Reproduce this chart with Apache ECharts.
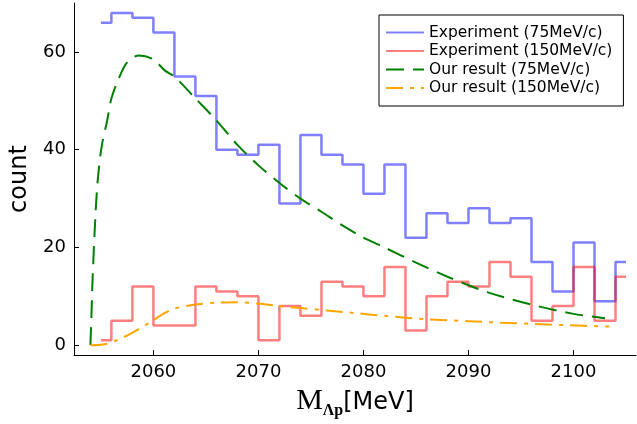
<!DOCTYPE html>
<html>
<head>
<meta charset="utf-8">
<script src="https://cdn.jsdelivr.net/npm/echarts@6/dist/echarts.min.js"></script>
<style>
  html, body { margin: 0; padding: 0; background: #fff; }
  #chart { width: 637px; height: 424px; }
</style>
</head>
<body>
<div id="chart"></div>
<script>
// bin centres (2 MeV bins, drawn as mid steps)
const binCenters = [2055, 2057, 2059, 2061, 2063, 2065, 2067, 2069, 2071, 2073, 2075, 2077, 2079,
                    2081, 2083, 2085, 2087, 2089, 2091, 2093, 2095, 2097, 2099, 2101, 2103, 2105];
const exp75 = [66, 68, 67, 64, 55, 51, 40, 39, 41, 29, 43, 39, 37,
               31, 37, 22, 27, 25, 28, 25, 26, 17, 11, 21, 9, 17];
const exp150 = [1, 5, 12, 4, 4, 12, 11, 10, 1, 8, 6, 13, 12,
                10, 16, 3, 10, 13, 12, 17, 14, 5, 8, 16, 5, 14];

// theory curves
const res75X = [2054.0, 2054.1, 2054.2, 2054.4, 2054.6, 2054.8, 2055.1, 2055.6, 2056.0, 2056.7,
                2057.5, 2058.6, 2060, 2061.1, 2062, 2064, 2066, 2068, 2070, 2072, 2074, 2076,
                2078, 2080, 2082, 2085, 2088, 2092, 2096, 2100, 2103];
const res75Y = [0, 6, 13, 23, 31, 36, 41, 46, 50.5, 54.6,
                57.9, 59.3, 58.5, 56.2, 55, 50.5, 46, 41, 36.8, 33.2, 30, 27.3,
                24.5, 22, 20, 16.9, 14, 10.7, 8.3, 6.4, 5.5];
const res150X = [2054.0, 2055.0, 2055.6, 2056.5, 2057.8, 2059.4, 2061.1, 2062, 2064, 2066, 2068,
                 2070, 2072, 2074, 2076.5, 2079, 2082, 2086, 2090, 2093, 2096, 2099, 2103.4];
const res150Y = [0, 0.1, 0.3, 1, 2.3, 4.3, 6.6, 7.5, 8.3, 8.7, 8.8,
                 8.5, 8.0, 7.6, 7.1, 6.6, 6.0, 5.3, 4.9, 4.6, 4.35, 4.1, 3.8];

const xTicks = [2060, 2070, 2080, 2090, 2100];
const yTicks = [0, 20, 40, 60];

const pairs = (xs, ys) => xs.map((x, i) => [x, ys[i]]);

const chart = echarts.init(document.getElementById("chart"), null, { renderer: "canvas" });

const font = "DejaVu Sans";

const option = {
    animation: false,
    backgroundColor: "#fff",
    grid: { left: 72, top: 3, right: 1, bottom: 58.5 },
    legend: {
        orient: "vertical",
        left: 379,
        top: 15,
        padding: [9.5, 11, 10, 6],
        itemWidth: 38,
        itemHeight: 14,
        itemGap: 2.5,
        borderColor: "#000",
        borderWidth: 1,
        borderRadius: 0,
        backgroundColor: "#fff",
        itemStyle: { opacity: 0 },
        textStyle: { fontFamily: font, fontSize: 15.5, color: "#000" },
        data: ["Experiment (75MeV/c)", "Experiment (150MeV/c)", "Our result (75MeV/c)", "Our result (150MeV/c)"]
    },
    xAxis: {
        type: "value",
        min: 2052.44,
        max: 2105.95,
        name: "{m|M}{s|Λp}{u|[MeV]}",
        nameLocation: "middle",
        nameGap: 26,
        nameTextStyle: {
            rich: {
                m: { fontFamily: "Liberation Serif", fontSize: 30, color: "#000" },
                s: { fontFamily: "Liberation Serif", fontWeight: "bold", fontSize: 16, color: "#000", padding: [20, 0, 0, 0] },
                u: { fontFamily: font, fontSize: 24, color: "#000", padding: [4, 0, 0, 0] }
            }
        },
        axisLine: { show: true, onZero: false, lineStyle: { color: "#000", width: 1 } },
        axisTick: { show: true, inside: true, length: 5, customValues: xTicks, lineStyle: { color: "#000" } },
        axisLabel: { customValues: xTicks, margin: 8, fontFamily: font, fontSize: 18, color: "#000", formatter: v => String(v) },
        splitLine: { show: false }
    },
    yAxis: {
        type: "value",
        min: -2.04,
        max: 70.04,
        name: "count",
        nameLocation: "middle",
        nameGap: 42,
        nameTextStyle: { fontFamily: font, fontSize: 24, color: "#000" },
        axisLine: { show: true, onZero: false, lineStyle: { color: "#000", width: 1 } },
        axisTick: { show: true, inside: true, length: 5, customValues: yTicks, lineStyle: { color: "#000" } },
        axisLabel: { customValues: yTicks, margin: 8, fontFamily: font, fontSize: 18, color: "#000", formatter: v => String(v) },
        splitLine: { show: false }
    },
    series: [
        {
            name: "Experiment (75MeV/c)",
            type: "line",
            step: "middle",
            symbol: "none",
            data: pairs(binCenters, exp75),
            lineStyle: { color: "rgba(0,0,255,0.5)", width: 2.5 },
            itemStyle: { color: "rgba(0,0,255,0.5)" }
        },
        {
            name: "Experiment (150MeV/c)",
            type: "line",
            step: "middle",
            symbol: "none",
            data: pairs(binCenters, exp150),
            lineStyle: { color: "rgba(255,0,0,0.5)", width: 2.5 },
            itemStyle: { color: "rgba(255,0,0,0.5)" }
        },
        {
            name: "Our result (75MeV/c)",
            type: "line",
            symbol: "none",
            smooth: 0.3,
            data: pairs(res75X, res75Y),
            lineStyle: { color: "#008000", width: 2, type: [18, 9] },
            itemStyle: { color: "#008000" }
        },
        {
            name: "Our result (150MeV/c)",
            type: "line",
            symbol: "none",
            smooth: 0.3,
            data: pairs(res150X, res150Y),
            lineStyle: { color: "#ffa500", width: 2, type: [17, 7, 4, 7] },
            itemStyle: { color: "#ffa500" }
        }
    ]
};

chart.setOption(option);
</script>
</body>
</html>
